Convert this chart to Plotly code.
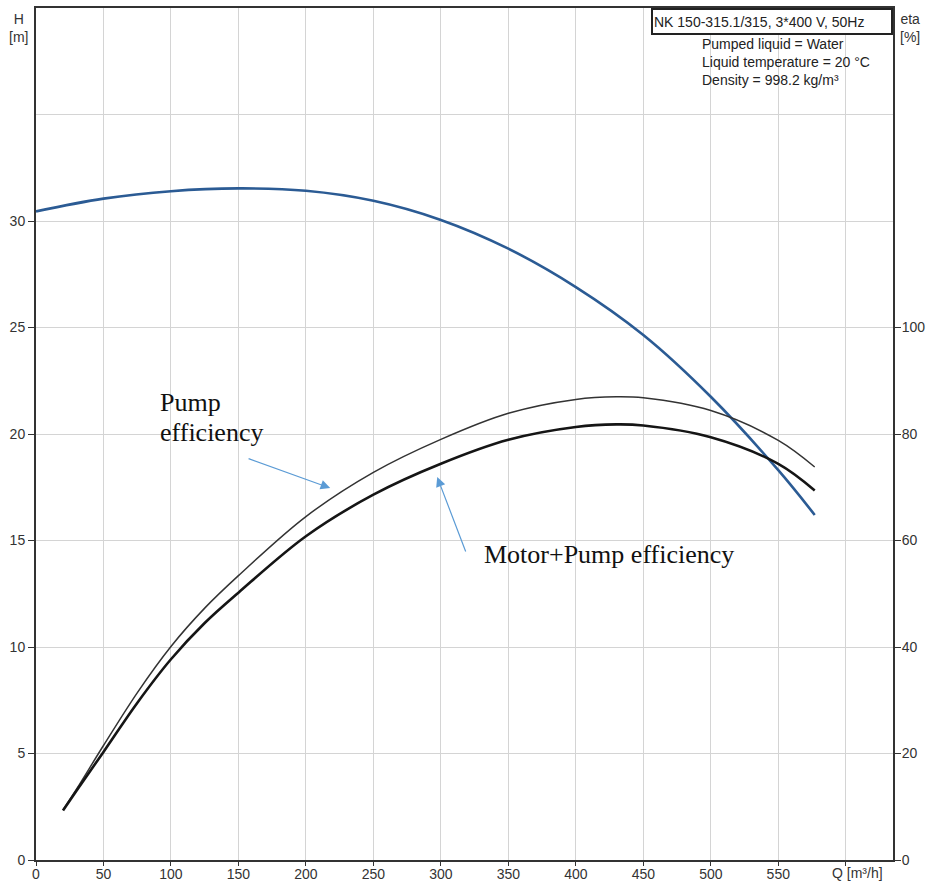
import plotly.graph_objects as go

# ---- data ----
q_head = [0, 50, 100, 150, 200, 250, 300, 350, 400, 450, 500, 550, 577]
head_m = [30.45, 31.05, 31.4, 31.53, 31.42, 30.95, 30.05, 28.7, 26.9, 24.65, 21.75, 18.3, 16.2]

q_eff = [20, 30, 50, 75, 100, 125, 150, 200, 250, 300, 350, 400, 430, 450, 500, 550, 577]
pump_eff = [9.4, 13.3, 21.5, 31.4, 40.1, 47.3, 53.4, 64.5, 72.8, 79.0, 83.9, 86.5, 87.0, 86.8, 84.4, 78.8, 73.8]
motor_pump_eff = [9.3, 13.0, 20.3, 29.5, 37.7, 44.5, 50.2, 60.8, 68.6, 74.4, 78.9, 81.3, 81.8, 81.6, 79.4, 74.4, 69.4]

x_ticks = [0, 50, 100, 150, 200, 250, 300, 350, 400, 450, 500, 550, 600]
x_ticktext = ["0", "50", "100", "150", "200", "250", "300", "350", "400", "450", "500", "550", ""]
h_ticks = [0, 5, 10, 15, 20, 25, 30]
eta_ticks = [0, 20, 40, 60, 80, 100]

title_box = "NK 150-315.1/315, 3*400 V, 50Hz"
info_text = "Pumped liquid = Water<br>Liquid temperature = 20 °C<br>Density = 998.2 kg/m³"

SANS = "Liberation Sans, Arial, sans-serif"
SERIF = "Liberation Serif, Times New Roman, serif"
GRID = "#d4d4d4"
FRAME = "#333333"
TXT = "#333333"

fig = go.Figure()
fig.add_trace(go.Scatter(x=q_head, y=head_m, mode="lines",
                         line=dict(color="#2b5b94", width=2.6, shape="spline", smoothing=1.0),
                         name="H", yaxis="y"))
fig.add_trace(go.Scatter(x=q_eff, y=pump_eff, mode="lines",
                         line=dict(color="#333333", width=1.5, shape="spline", smoothing=1.0),
                         name="Pump efficiency", yaxis="y2"))
fig.add_trace(go.Scatter(x=q_eff, y=motor_pump_eff, mode="lines",
                         line=dict(color="#151515", width=2.6, shape="spline", smoothing=1.0),
                         name="Motor+Pump efficiency", yaxis="y2"))

annotations = [
    dict(text=title_box, xref="paper", yref="paper", x=1, y=1, xanchor="right", yanchor="top",
         showarrow=False, font=dict(family=SANS, size=14, color="#222"), bordercolor="#222",
         borderwidth=2, borderpad=1, width=236, height=21, align="left", bgcolor="white"),
    dict(text=info_text, xref="x", yref="y", x=492, y=37.45, xanchor="left", yanchor="middle",
         showarrow=False, align="left", font=dict(family=SANS, size=14, color="#222")),
    dict(text="H<br>[m]", xref="paper", yref="paper", x=-0.021, y=1.0, yshift=-1, xanchor="center", yanchor="top",
         showarrow=False, font=dict(family=SANS, size=14, color=TXT)),
    dict(text="eta<br>[%]", xref="paper", yref="paper", x=1.0198, y=1.0, yshift=-1, xanchor="center", yanchor="top",
         showarrow=False, font=dict(family=SANS, size=14, color=TXT)),
    dict(text="Q [m³/h]", xref="x", yref="paper", x=600, y=0, xanchor="center", yanchor="top",
         xshift=12, yshift=-3, showarrow=False, font=dict(family=SANS, size=14, color=TXT)),
    dict(text="Pump", xref="x", yref="y", x=90.4, y=21.46, xanchor="left", yanchor="middle",
         showarrow=False, font=dict(family=SERIF, size=26, color="#111")),
    dict(text="efficiency", xref="x", yref="y", x=90.4, y=20.05, xanchor="left", yanchor="middle",
         showarrow=False, font=dict(family=SERIF, size=26, color="#111")),
    dict(text="Motor+Pump efficiency", xref="x", yref="y", x=330.6, y=14.32, xanchor="left", yanchor="middle",
         showarrow=False, font=dict(family=SERIF, size=26, color="#111")),
    dict(text="", xref="x", yref="y", x=218.0, y=17.46, axref="x", ayref="y", ax=156.4, ay=18.87,
         showarrow=True, arrowhead=2, arrowsize=1.6, arrowwidth=1.2, arrowcolor="#5b9bd5"),
    dict(text="", xref="x", yref="y", x=297.3, y=17.98, axref="x", ayref="y", ax=318.8, ay=14.41,
         showarrow=True, arrowhead=2, arrowsize=1.6, arrowwidth=1.2, arrowcolor="#5b9bd5"),
]

fig.update_layout(
    width=930, height=882,
    margin=dict(l=36, r=37, t=8, b=22, autoexpand=False),
    paper_bgcolor="white", plot_bgcolor="white",
    showlegend=False,
    font=dict(family=SANS, size=14, color=TXT),
    xaxis=dict(range=[0, 635], tickmode="array", tickvals=x_ticks, ticktext=x_ticktext,
               automargin=False,
               showgrid=True, gridcolor=GRID, gridwidth=1, zeroline=False,
               showline=True, linecolor=FRAME, linewidth=2, mirror=True,
               ticks="outside", ticklen=4, ticklabelstandoff=-4, tickcolor=FRAME,
               tickfont=dict(family=SANS, size=14, color=TXT)),
    yaxis=dict(range=[0, 40], tickmode="array", tickvals=h_ticks, automargin=False,
               showgrid=True, gridcolor=GRID, gridwidth=1, zeroline=False,
               minor=dict(tickmode="linear", tick0=0, dtick=5, showgrid=True, gridcolor=GRID, gridwidth=1, ticks=""),
               showline=True, linecolor=FRAME, linewidth=2, mirror=True,
               ticks="outside", ticklen=6, tickcolor=FRAME, tickfont=dict(family=SANS, size=14, color=TXT)),
    yaxis2=dict(range=[0, 160], overlaying="y", side="right", tickmode="array", tickvals=eta_ticks,
                automargin=False,
                showgrid=False, zeroline=False, showline=True, linecolor=FRAME, linewidth=2,
                ticks="outside", ticklen=6, ticklabelstandoff=-2, tickcolor=FRAME,
                tickfont=dict(family=SANS, size=14, color=TXT)),
    annotations=annotations,
)

# remove the page's default body margin / scrollbars so the 930x882 figure fills the window exactly
fig.write_html("out.html",
               config={"displayModeBar": False},
               post_script="document.body.style.margin='0';document.body.style.overflow='hidden';")
